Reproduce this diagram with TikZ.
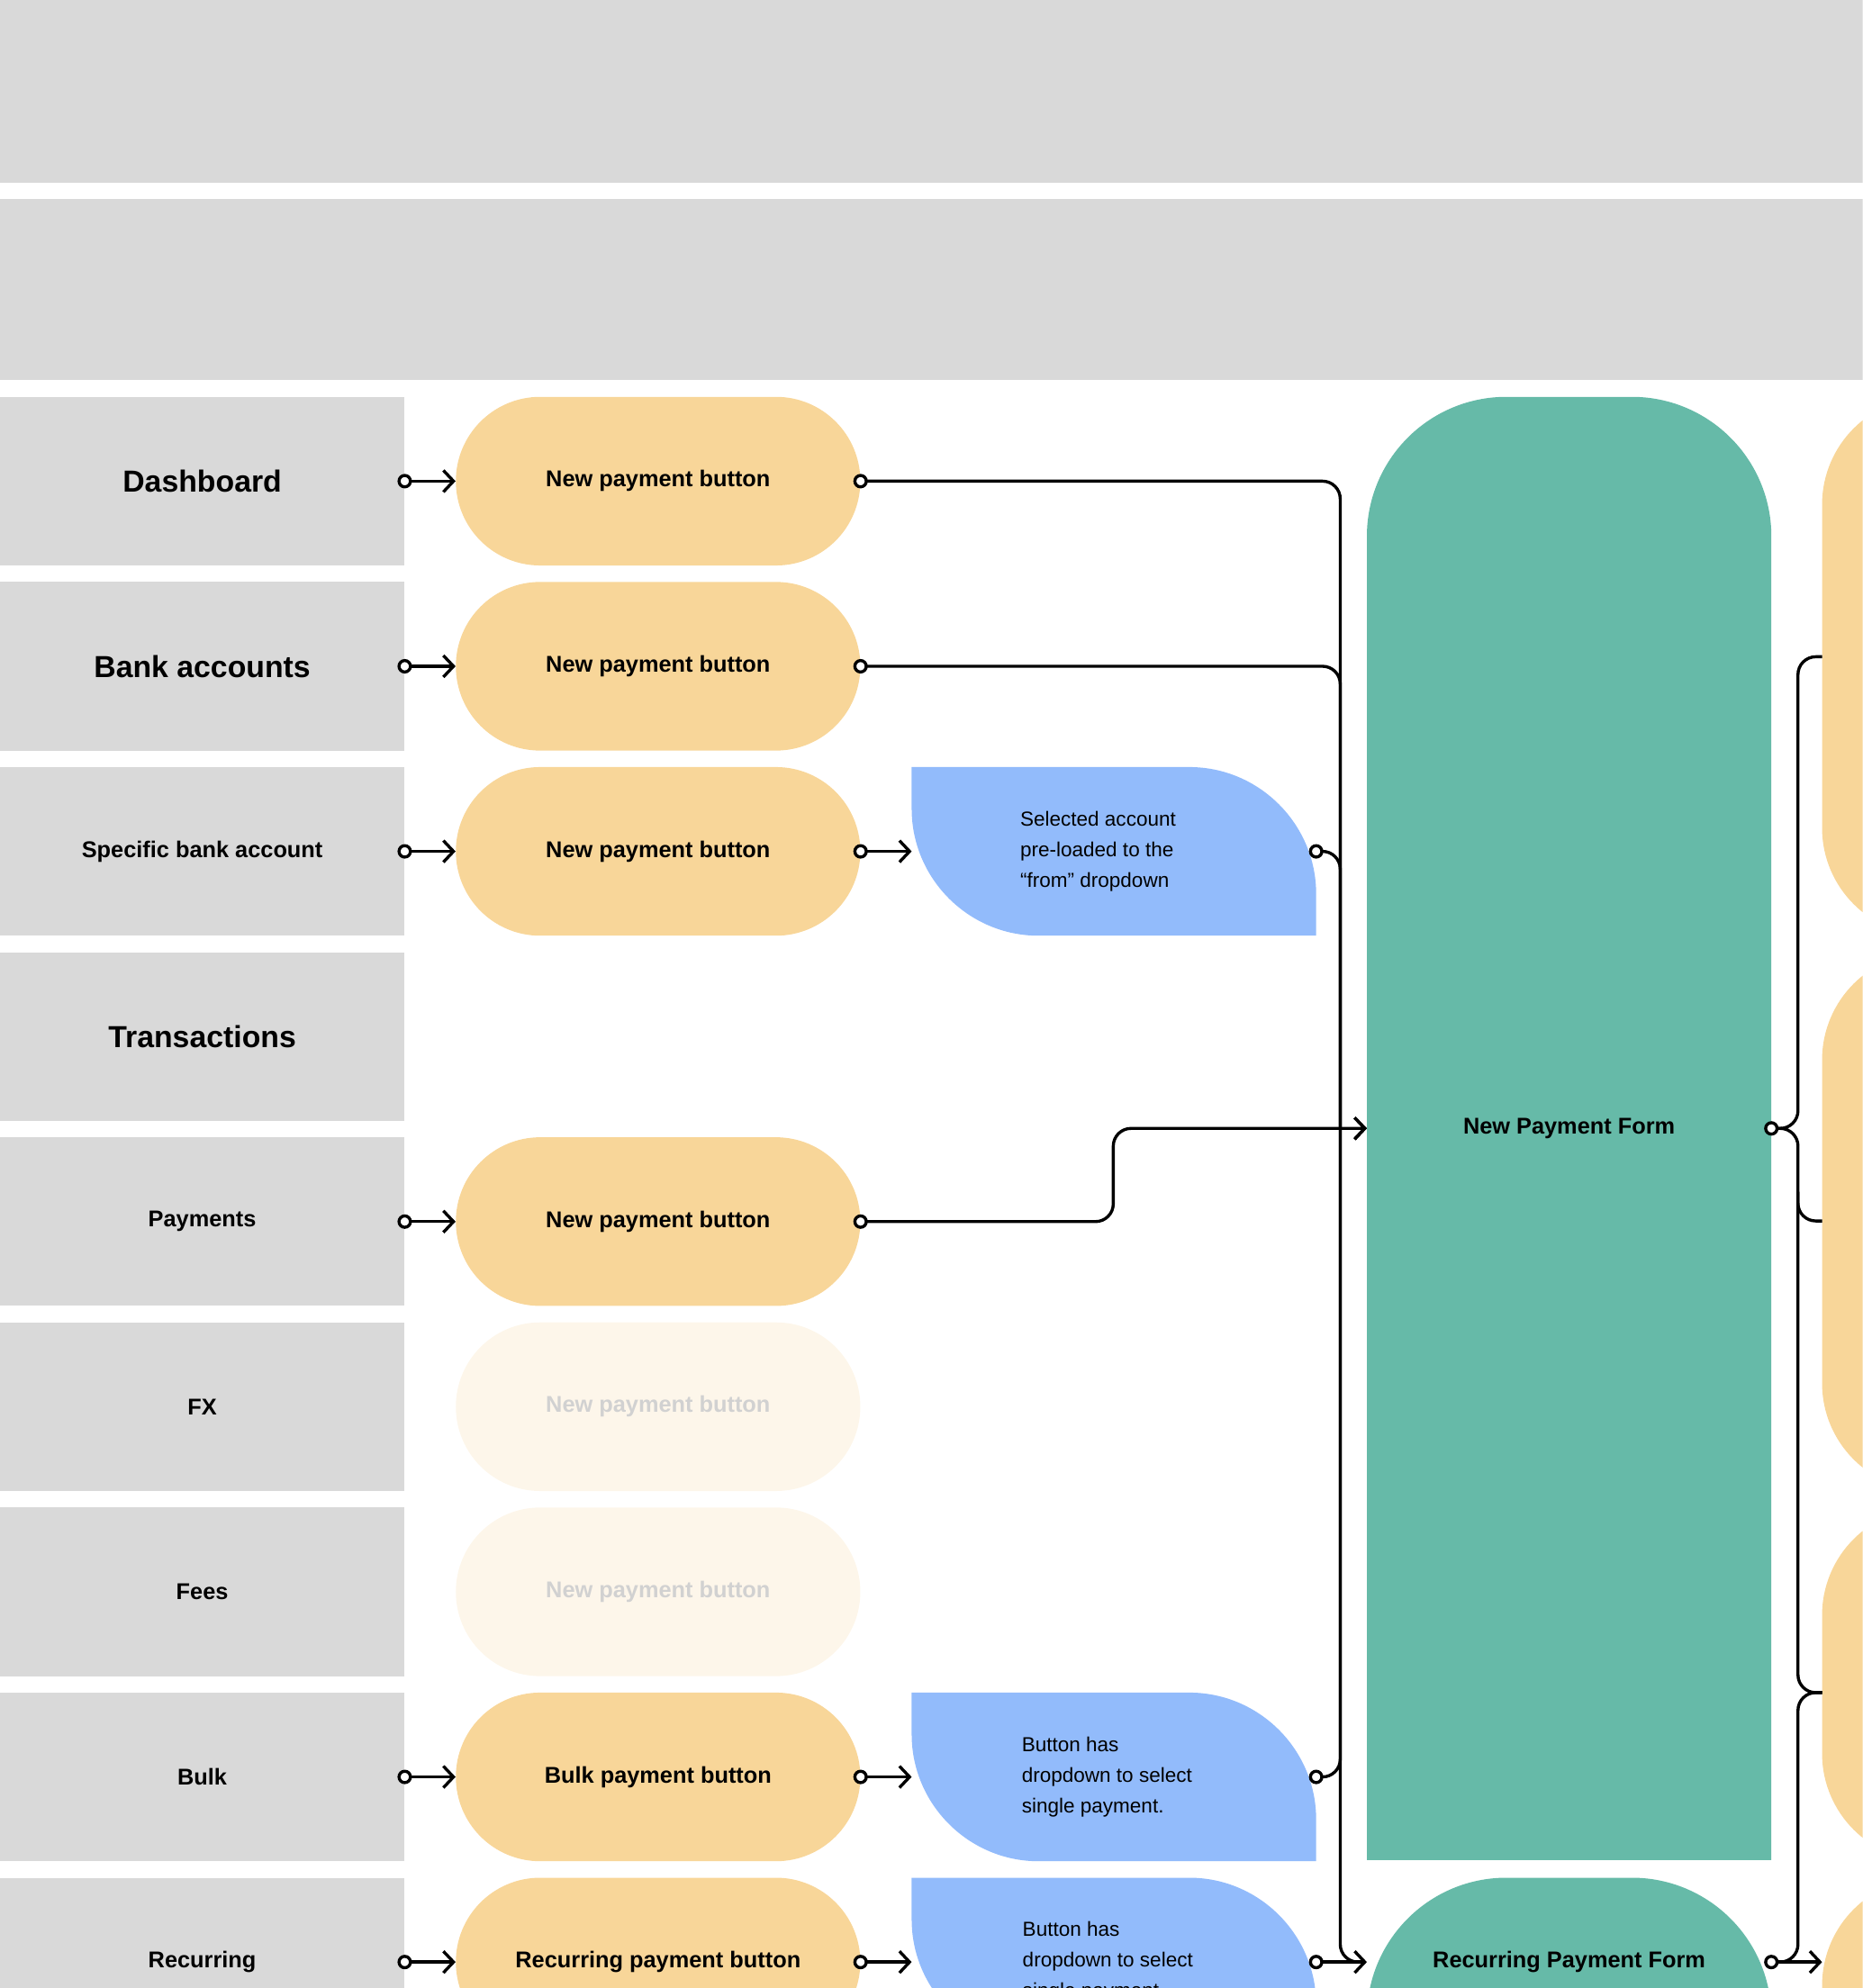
\documentclass[tikz,border=0pt]{standalone}
\usepackage{fontspec}
\setmainfont{Liberation Sans}
\usetikzlibrary{arrows.meta,shapes.misc}

\definecolor{band}{HTML}{D9D9D9}
\definecolor{btn}{HTML}{F8D699}
\definecolor{btnfade}{HTML}{FDF6EA}
\definecolor{note}{HTML}{92BBFB}
\definecolor{form}{HTML}{66BAA8}

\tikzset{
  page/.style={fill=band,minimum width=319pt,minimum height=133pt,inner sep=0pt,font=\bfseries\fontsize{18}{21}\selectfont},
  bigpage/.style={page,font=\bfseries\fontsize{24}{28}\selectfont},
  button/.style={rounded rectangle,fill=btn,minimum width=319pt,minimum height=133pt,inner sep=0pt,font=\bfseries\fontsize{18}{21}\selectfont},
  faded/.style={button,fill=btnfade,text=black!18},
  link/.style={line width=2.4pt,rounded corners=14pt},
  go/.style={link,-{Straight Barb[length=8pt,width=17pt,line width=2.4pt]}},
  dot/.style={circle,draw,line width=2.4pt,fill=white,inner sep=0pt,minimum size=9pt},
  notetext/.style={align=left,font=\fontsize{16}{24}\selectfont}
}

\begin{document}
\begin{tikzpicture}[x=1pt,y=-1pt]
  \useasboundingbox (0,0) rectangle (1469,1568);
  \clip (0,0) rectangle (1469,1568);

  % header bands
  \fill[band] (0,0) rectangle (1469,144);
  \fill[band] (0,157) rectangle (1469,300);

  % page column
  \node[bigpage] (p1) at (159.5,379.5) {Dashboard};
  \node[bigpage] (p2) at (159.5,525.5) {Bank accounts};
  \node[page]    (p3) at (159.5,671.5) {Specific bank account};
  \node[bigpage] (p4) at (159.5,817.5) {Transactions};
  \node[page]    (p5) at (159.5,963.5) {Payments};
  \node[page]    (p6) at (159.5,1109.5) {FX};
  \node[page]    (p7) at (159.5,1255.5) {Fees};
  \node[page]    (p8) at (159.5,1401.5) {Bulk};
  \node[page]    (p9) at (159.5,1547.5) {Recurring};

  % buttons
  \node[button] (b1) at (519,379.5) {New payment button};
  \node[button] (b2) at (519,525.5) {New payment button};
  \node[button] (b3) at (519,671.5) {New payment button};
  \node[button] (b5) at (519,963.5) {New payment button};
  \node[faded]  (b6) at (519,1109.5) {New payment button};
  \node[faded]  (b7) at (519,1255.5) {New payment button};
  \node[button] (b8) at (519,1401.5) {Bulk payment button};
  \node[button] (b9) at (519,1547.5) {Recurring payment button};

  % notes
  \foreach \y in {605,1335,1481}
    \fill[note] (719,\y) -- (938,\y) .. controls (993,\y) and (1038,\y+45) .. (1038,\y+100)
      -- (1038,\y+133) -- (819,\y+133) .. controls (764,\y+133) and (719,\y+88) .. (719,\y+33) -- cycle;
  \node[notetext] (n3) at (866,671.5) {Selected account\\pre-loaded to the\\“from” dropdown};
  \node[notetext] (n8) at (873,1401.5) {Button has\\dropdown to select\\single payment.};
  \node[notetext,anchor=north west] (n9) at (803,1512) {Button has\\dropdown to select\\single payment.};

  % forms
  \fill[form,rounded corners=110pt] (1078,1467) -- (1078,313) -- (1397,313) [sharp corners] -- (1397,1467) -- cycle;
  \fill[form,rounded corners=110pt] (1078,1640) -- (1078,1481) -- (1397,1481) [sharp corners] -- (1397,1640) -- cycle;
  \node[font=\bfseries\fontsize{18}{21}\selectfont] (f1) at (1237.5,890) {New Payment Form};
  \node[font=\bfseries\fontsize{18}{21}\selectfont] (f2) at (1237.5,1547.5) {Recurring Payment Form};

  % next step pages, cut by the edge
  \foreach \a/\b in {313/738,751/1176,1189/1468,1481/1800}
    \fill[btn,rounded corners=85pt] (1437,\a) rectangle (1756,\b);

  % joins
  \coordinate (jn) at (1057,890);
  \coordinate (in) at (1078,890);
  \coordinate (out1) at (1397,890);
  \coordinate (out2) at (1397,1547.5);
  \coordinate (s3) at (1038,671.5);
  \coordinate (s8) at (1038,1401.5);
  \coordinate (s9) at (1038,1547.5);
  \coordinate (r1) at (1437,518);
  \coordinate (r2) at (1437,963);
  \coordinate (r3) at (1437,1335);
  \coordinate (r4) at (1437,1547.5);

  % page to button
  \foreach \i in {1,2,3,5,8,9}
    \draw[go] (p\i.east) -- (b\i.west);
  \foreach \i in {3,8,9}
    \draw[go] (b\i.east) -- (719,\i*146+233.5);

  % into the form
  \draw[link] (b1.east) -| (jn);
  \draw[link] (b2.east) -| (jn);
  \draw[link] (s3) -| (jn);
  \draw[link] (s8) -| (jn);
  \draw[go] (b5.east) -- (878,963.5) -- (878,890) -- (in);
  \draw[go] (jn) -- (in);
  \draw[link] (jn) -- (1057,1547.5) -- (1070,1547.5);
  \draw[go] (s9) -- (1078,1547.5);

  % out of the forms
  \draw[link] (out1) -| (1418,518) -- (r1);
  \draw[link] (out1) -| (1418,963) -- (r2);
  \draw[link] (1418,940) -- (1418,1335) -- (r3);
  \draw[link] (out2) -| (1418,1335) -- (r3);
  \draw[go] (out2) -- (r4);

  % dots
  \foreach \i in {1,2,3,5,8,9}
    \node[dot] at (p\i.east) {};
  \foreach \i in {1,2,3,5,8,9}
    \node[dot] at (b\i.east) {};
  \foreach \c in {s3,s8,s9,out1,out2}
    \node[dot] at (\c) {};
\end{tikzpicture}
\end{document}
